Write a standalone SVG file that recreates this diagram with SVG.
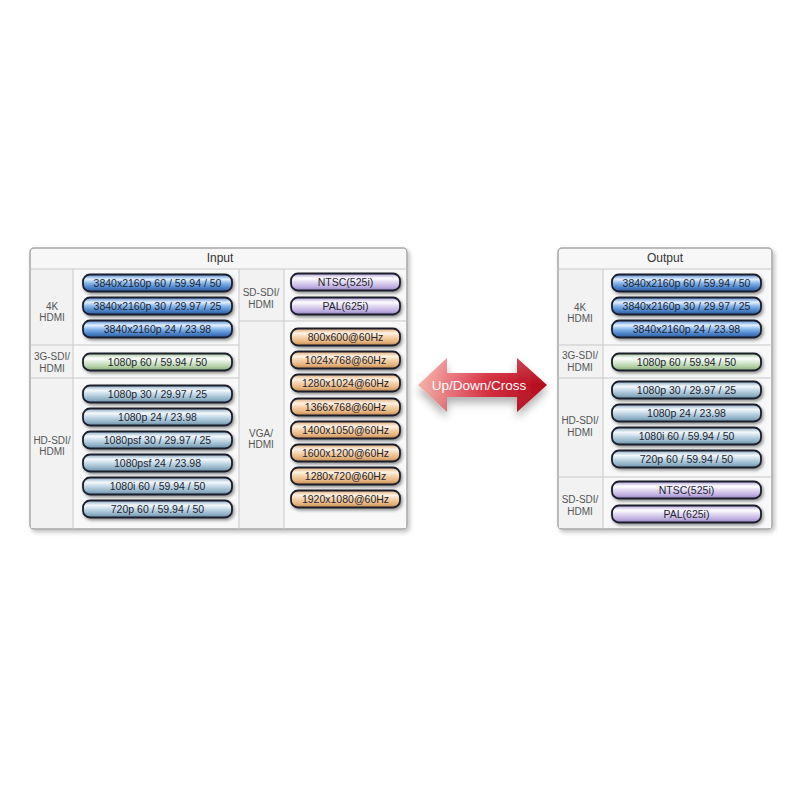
<svg xmlns="http://www.w3.org/2000/svg" width="800" height="800" viewBox="0 0 800 800">
<defs>
<filter id="sh" x="-10%" y="-10%" width="130%" height="150%"><feDropShadow dx="1.5" dy="2" stdDeviation="1.5" flood-color="#000" flood-opacity="0.4"/></filter>
<filter id="psh" x="-10%" y="-10%" width="130%" height="130%"><feDropShadow dx="2" dy="2.5" stdDeviation="2" flood-color="#000" flood-opacity="0.25"/></filter>
<filter id="ash" x="-20%" y="-30%" width="140%" height="170%"><feDropShadow dx="0" dy="6" stdDeviation="4" flood-color="#000" flood-opacity="0.3"/></filter>
<linearGradient id="gBlue" x1="0" y1="0" x2="0" y2="1"><stop offset="0" stop-color="#4f86cc"/><stop offset="0.28" stop-color="#e4f1ff"/><stop offset="0.5" stop-color="#8ab8ea"/><stop offset="0.75" stop-color="#4f86cc"/><stop offset="1" stop-color="#2a5a9e"/></linearGradient>
<linearGradient id="gSteel" x1="0" y1="0" x2="0" y2="1"><stop offset="0" stop-color="#88a9c0"/><stop offset="0.28" stop-color="#f4f9fc"/><stop offset="0.5" stop-color="#c6dbe8"/><stop offset="0.78" stop-color="#95b5ca"/><stop offset="1" stop-color="#6a8ea6"/></linearGradient>
<linearGradient id="gGreen" x1="0" y1="0" x2="0" y2="1"><stop offset="0" stop-color="#9dbf92"/><stop offset="0.28" stop-color="#ffffff"/><stop offset="0.5" stop-color="#dcebd6"/><stop offset="0.78" stop-color="#b0cfa4"/><stop offset="1" stop-color="#84a878"/></linearGradient>
<linearGradient id="gPurple" x1="0" y1="0" x2="0" y2="1"><stop offset="0" stop-color="#ad9cd4"/><stop offset="0.28" stop-color="#ffffff"/><stop offset="0.5" stop-color="#e2d9f2"/><stop offset="0.78" stop-color="#c0b0e0"/><stop offset="1" stop-color="#9684c0"/></linearGradient>
<linearGradient id="gOrange" x1="0" y1="0" x2="0" y2="1"><stop offset="0" stop-color="#dca874"/><stop offset="0.28" stop-color="#fff3e4"/><stop offset="0.5" stop-color="#f4d3ac"/><stop offset="0.78" stop-color="#e6b47e"/><stop offset="1" stop-color="#c08852"/></linearGradient>
<linearGradient id="gArrow" gradientUnits="userSpaceOnUse" x1="418" y1="0" x2="547" y2="0"><stop offset="0" stop-color="#f4b4a8"/><stop offset="0.25" stop-color="#e8727a"/><stop offset="0.55" stop-color="#d42a3a"/><stop offset="1" stop-color="#b0081a"/></linearGradient>
<linearGradient id="gArrowHi" x1="0" y1="0" x2="0" y2="1"><stop offset="0" stop-color="#fff" stop-opacity="0.2"/><stop offset="0.5" stop-color="#fff" stop-opacity="0"/><stop offset="1" stop-color="#000" stop-opacity="0.1"/></linearGradient>
</defs>
<style>
.panel{fill:#f3f3f3;stroke:#a8a8a8;stroke-width:1.5}
.hdr{fill:#f7f7f7}
.lab{fill:#f2f2f2}
.cell{fill:#f8f8f8}
.div{stroke:#c8c8c8;stroke-width:1;fill:none}
.pill{stroke:#1a1f2c;stroke-width:1.8}
.blue{fill:url(#gBlue)}
.steel{fill:url(#gSteel)}
.green{fill:url(#gGreen)}
.purple{fill:url(#gPurple)}
.orange{fill:url(#gOrange)}
.pt{font-family:"Liberation Sans",Arial,sans-serif;font-size:10.5px;fill:#1e2430;text-anchor:middle;dominant-baseline:central}
.lt{font-family:"Liberation Sans",Arial,sans-serif;font-size:10px;fill:#555;text-anchor:middle;dominant-baseline:central}
.ht{font-family:"Liberation Sans",Arial,sans-serif;font-size:12px;fill:#333;text-anchor:middle;dominant-baseline:central}
.at{font-family:"Liberation Sans",Arial,sans-serif;font-size:13.5px;fill:#fff;text-anchor:middle;dominant-baseline:central}
</style>

<!-- Input panel -->
<g id="input-panel">
<rect class="panel" x="30" y="248" width="377" height="281" rx="4" filter="url(#psh)"/>
<rect class="hdr" x="31" y="249" width="375" height="20" rx="3"/>
<rect class="lab" x="31" y="269" width="42" height="259"/>
<rect class="cell" x="73" y="269" width="166" height="259"/>
<rect class="lab" x="239" y="269" width="45" height="259"/>
<rect class="cell" x="284" y="269" width="122" height="259"/>
<line class="div" x1="30" y1="269" x2="407" y2="269"/>
<line class="div" x1="73" y1="269" x2="73" y2="529"/>
<line class="div" x1="239" y1="269" x2="239" y2="529"/>
<line class="div" x1="284" y1="269" x2="284" y2="529"/>
<line class="div" x1="30" y1="345" x2="239" y2="345"/>
<line class="div" x1="30" y1="378" x2="239" y2="378"/>
<line class="div" x1="239" y1="321" x2="407" y2="321"/>
<text class="ht" x="220" y="258">Input</text>
<text class="lt" x="52" y="306">4K</text><text class="lt" x="52" y="317">HDMI</text>
<text class="lt" x="52" y="356">3G-SDI/</text><text class="lt" x="52" y="368">HDMI</text>
<text class="lt" x="52" y="440">HD-SDI/</text><text class="lt" x="52" y="451">HDMI</text>
<text class="lt" x="261" y="292">SD-SDI/</text><text class="lt" x="261" y="304">HDMI</text>
<text class="lt" x="261" y="433">VGA/</text><text class="lt" x="261" y="444">HDMI</text>
</g>

<g id="in-4k-1"><rect class="pill blue" x="83" y="274.5" width="149" height="17" rx="7" filter="url(#sh)"/><text class="pt" x="157.5" y="283">3840x2160p 60 / 59.94 / 50</text></g>
<g id="in-4k-2"><rect class="pill blue" x="83" y="297.5" width="149" height="17" rx="7" filter="url(#sh)"/><text class="pt" x="157.5" y="306">3840x2160p 30 / 29.97 / 25</text></g>
<g id="in-4k-3"><rect class="pill blue" x="83" y="320.5" width="149" height="17" rx="7" filter="url(#sh)"/><text class="pt" x="157.5" y="329">3840x2160p 24 / 23.98</text></g>
<g id="in-3g-1"><rect class="pill green" x="83" y="353.5" width="149" height="17" rx="7" filter="url(#sh)"/><text class="pt" x="157.5" y="362">1080p 60 / 59.94 / 50</text></g>
<g id="in-hd-1"><rect class="pill steel" x="83" y="385.5" width="149" height="17" rx="7" filter="url(#sh)"/><text class="pt" x="157.5" y="394">1080p 30 / 29.97 / 25</text></g>
<g id="in-hd-2"><rect class="pill steel" x="83" y="408.5" width="149" height="17" rx="7" filter="url(#sh)"/><text class="pt" x="157.5" y="417">1080p 24 / 23.98</text></g>
<g id="in-hd-3"><rect class="pill steel" x="83" y="431.5" width="149" height="17" rx="7" filter="url(#sh)"/><text class="pt" x="157.5" y="440">1080psf 30 / 29.97 / 25</text></g>
<g id="in-hd-4"><rect class="pill steel" x="83" y="454.5" width="149" height="17" rx="7" filter="url(#sh)"/><text class="pt" x="157.5" y="463">1080psf 24 / 23.98</text></g>
<g id="in-hd-5"><rect class="pill steel" x="83" y="477.5" width="149" height="17" rx="7" filter="url(#sh)"/><text class="pt" x="157.5" y="486">1080i 60 / 59.94 / 50</text></g>
<g id="in-hd-6"><rect class="pill steel" x="83" y="500.5" width="149" height="17" rx="7" filter="url(#sh)"/><text class="pt" x="157.5" y="509">720p 60 / 59.94 / 50</text></g>

<g id="in-sd-1"><rect class="pill purple" x="291" y="273.5" width="109" height="17" rx="7" filter="url(#sh)"/><text class="pt" x="345.5" y="282">NTSC(525i)</text></g>
<g id="in-sd-2"><rect class="pill purple" x="291" y="297.5" width="109" height="17" rx="7" filter="url(#sh)"/><text class="pt" x="345.5" y="306">PAL(625i)</text></g>
<g id="in-vga-1"><rect class="pill orange" x="291" y="328.5" width="109" height="17" rx="7" filter="url(#sh)"/><text class="pt" x="345.5" y="337">800x600@60Hz</text></g>
<g id="in-vga-2"><rect class="pill orange" x="291" y="351.5" width="109" height="17" rx="7" filter="url(#sh)"/><text class="pt" x="345.5" y="360">1024x768@60Hz</text></g>
<g id="in-vga-3"><rect class="pill orange" x="291" y="374.5" width="109" height="17" rx="7" filter="url(#sh)"/><text class="pt" x="345.5" y="383">1280x1024@60Hz</text></g>
<g id="in-vga-4"><rect class="pill orange" x="291" y="398.5" width="109" height="17" rx="7" filter="url(#sh)"/><text class="pt" x="345.5" y="407">1366x768@60Hz</text></g>
<g id="in-vga-5"><rect class="pill orange" x="291" y="421.5" width="109" height="17" rx="7" filter="url(#sh)"/><text class="pt" x="345.5" y="430">1400x1050@60Hz</text></g>
<g id="in-vga-6"><rect class="pill orange" x="291" y="444.5" width="109" height="17" rx="7" filter="url(#sh)"/><text class="pt" x="345.5" y="453">1600x1200@60Hz</text></g>
<g id="in-vga-7"><rect class="pill orange" x="291" y="467.5" width="109" height="17" rx="7" filter="url(#sh)"/><text class="pt" x="345.5" y="476">1280x720@60Hz</text></g>
<g id="in-vga-8"><rect class="pill orange" x="291" y="490.5" width="109" height="17" rx="7" filter="url(#sh)"/><text class="pt" x="345.5" y="499">1920x1080@60Hz</text></g>

<!-- Output panel -->
<g id="output-panel">
<rect class="panel" x="558" y="248" width="214" height="281" rx="4" filter="url(#psh)"/>
<rect class="hdr" x="559" y="249" width="212" height="20" rx="3"/>
<rect class="lab" x="559" y="269" width="44" height="259"/>
<rect class="cell" x="603" y="269" width="168" height="259"/>
<line class="div" x1="558" y1="269" x2="772" y2="269"/>
<line class="div" x1="603" y1="269" x2="603" y2="529"/>
<line class="div" x1="558" y1="345" x2="772" y2="345"/>
<line class="div" x1="558" y1="378" x2="772" y2="378"/>
<line class="div" x1="558" y1="477" x2="772" y2="477"/>
<text class="ht" x="665" y="258">Output</text>
<text class="lt" x="580" y="307">4K</text><text class="lt" x="580" y="318">HDMI</text>
<text class="lt" x="580" y="355">3G-SDI/</text><text class="lt" x="580" y="367">HDMI</text>
<text class="lt" x="580" y="420">HD-SDI/</text><text class="lt" x="580" y="432">HDMI</text>
<text class="lt" x="580" y="499">SD-SDI/</text><text class="lt" x="580" y="511">HDMI</text>
</g>

<g id="out-4k-1"><rect class="pill blue" x="612" y="274.5" width="149" height="17" rx="7" filter="url(#sh)"/><text class="pt" x="686.5" y="283">3840x2160p 60 / 59.94 / 50</text></g>
<g id="out-4k-2"><rect class="pill blue" x="612" y="297.5" width="149" height="17" rx="7" filter="url(#sh)"/><text class="pt" x="686.5" y="306">3840x2160p 30 / 29.97 / 25</text></g>
<g id="out-4k-3"><rect class="pill blue" x="612" y="320.5" width="149" height="17" rx="7" filter="url(#sh)"/><text class="pt" x="686.5" y="329">3840x2160p 24 / 23.98</text></g>
<g id="out-3g-1"><rect class="pill green" x="612" y="353.5" width="149" height="17" rx="7" filter="url(#sh)"/><text class="pt" x="686.5" y="362">1080p 60 / 59.94 / 50</text></g>
<g id="out-hd-1"><rect class="pill steel" x="612" y="381.5" width="149" height="17" rx="7" filter="url(#sh)"/><text class="pt" x="686.5" y="390">1080p 30 / 29.97 / 25</text></g>
<g id="out-hd-2"><rect class="pill steel" x="612" y="404.5" width="149" height="17" rx="7" filter="url(#sh)"/><text class="pt" x="686.5" y="413">1080p 24 / 23.98</text></g>
<g id="out-hd-3"><rect class="pill steel" x="612" y="427.5" width="149" height="17" rx="7" filter="url(#sh)"/><text class="pt" x="686.5" y="436">1080i 60 / 59.94 / 50</text></g>
<g id="out-hd-4"><rect class="pill steel" x="612" y="450.5" width="149" height="17" rx="7" filter="url(#sh)"/><text class="pt" x="686.5" y="459">720p 60 / 59.94 / 50</text></g>
<g id="out-sd-1"><rect class="pill purple" x="612" y="481.5" width="149" height="17" rx="7" filter="url(#sh)"/><text class="pt" x="686.5" y="490">NTSC(525i)</text></g>
<g id="out-sd-2"><rect class="pill purple" x="612" y="505.5" width="149" height="17" rx="7" filter="url(#sh)"/><text class="pt" x="686.5" y="514">PAL(625i)</text></g>

<!-- Connector: double-headed block arrow -->
<g id="connectors">
<g filter="url(#ash)">
<path d="M418,385 L447,358 L447,373 L517,373 L517,358 L547,385 L517,412 L517,397 L447,397 L447,412 Z" fill="url(#gArrow)"/>
</g>
<path d="M418,385 L447,358 L447,373 L517,373 L517,358 L547,385 L517,412 L517,397 L447,397 L447,412 Z" fill="url(#gArrowHi)"/>
<text class="at" x="479" y="385">Up/Down/Cross</text>
</g>
</svg>
